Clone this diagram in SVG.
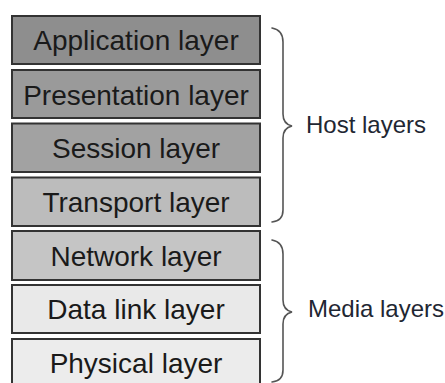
<svg xmlns="http://www.w3.org/2000/svg" width="445" height="383" viewBox="0 0 445 383">
  <style>
    .box { stroke: #333; stroke-width: 2; }
    .lbl { font-family: "Liberation Sans", Arial, sans-serif; font-size: 28px; fill: #1a1a1a; text-anchor: middle; }
    .side { font-family: "Liberation Sans", Arial, sans-serif; font-size: 24px; fill: #1f2733; }
    .brace { fill: none; stroke: #555; stroke-width: 1.6; stroke-linecap: round; }
  </style>
  <rect width="445" height="383" fill="#ffffff"/>

  <!-- OSI layer stack -->
  <g id="application">
    <rect class="box" x="12" y="16" width="248" height="48" fill="#8e8e8e"/>
    <text class="lbl" x="136" y="50">Application layer</text>
  </g>
  <g id="presentation">
    <rect class="box" x="12" y="70" width="248" height="48" fill="#9a9a9a"/>
    <text class="lbl" x="136" y="105">Presentation layer</text>
  </g>
  <g id="session">
    <rect class="box" x="12" y="123.5" width="248" height="48.5" fill="#a2a2a2"/>
    <text class="lbl" x="136" y="158">Session layer</text>
  </g>
  <g id="transport">
    <rect class="box" x="12" y="177.5" width="248" height="48.5" fill="#bcbcbc"/>
    <text class="lbl" x="136" y="212">Transport layer</text>
  </g>
  <g id="network">
    <rect class="box" x="12" y="231" width="248" height="49" fill="#c5c5c5"/>
    <text class="lbl" x="136" y="266">Network layer</text>
  </g>
  <g id="datalink">
    <rect class="box" x="12" y="285" width="248" height="48" fill="#e9e9e9"/>
    <text class="lbl" x="136" y="319">Data link layer</text>
  </g>
  <g id="physical">
    <rect class="box" x="12" y="339" width="248" height="50" fill="#ececec"/>
    <text class="lbl" x="136" y="373">Physical layer</text>
  </g>

  <!-- grouping braces -->
  <g id="connectors">
    <path class="brace" d="M272,28 Q283,30 283,42 L283,114 Q283,124 292,126 Q283,128 283,138 L283,210 Q283,221 272,222"/>
    <path class="brace" d="M272,240 Q283,242 283,254 L283,300 Q283,310 292,312 Q283,314 283,324 L283,370 Q283,381 272,382"/>
  </g>

  <g id="host-label">
    <text class="side" x="306" y="133">Host layers</text>
  </g>
  <g id="media-label">
    <text class="side" x="308" y="317">Media layers</text>
  </g>
</svg>
